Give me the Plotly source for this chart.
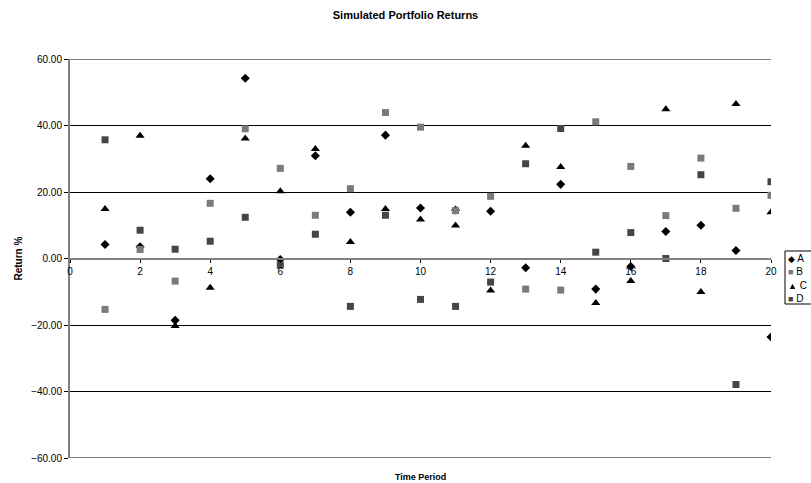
import plotly.graph_objects as go

periods = list(range(1, 21))
series_a = [4.2, 3.5, -18.6, 24.0, 54.2, -0.3, 30.9, 13.9, 37.1, 15.2, 14.6, 14.2, -2.8, 22.3, -9.2, -2.4, 8.1, 10.0, 2.4, -23.6]
series_b = [-15.3, 2.7, -6.8, 16.6, 39.0, 27.1, 13.0, 21.0, 43.9, 39.5, 14.4, 18.7, -9.2, -9.5, 41.1, 27.7, 12.9, 30.2, 15.1, 19.0]
series_c = [14.9, 36.9, -20.3, -8.8, 36.1, 20.2, 32.9, 5.0, 14.9, 11.7, 9.9, -9.6, 33.9, 27.5, -13.4, -6.8, 44.9, -10.1, 46.5, 13.9]
series_d = [35.7, 8.5, 2.8, 5.2, 12.4, -2.0, 7.3, -14.4, 13.0, -12.3, -14.4, -7.1, 28.5, 39.1, 1.9, 7.8, 0.0, 25.2, -37.9, 23.1]
series_names = ["A", "B", "C", "D"]
y_ticks = [-60, -40, -20, 0, 20, 40, 60]
x_ticks = list(range(0, 21, 2))

font = "Liberation Sans, Arial, sans-serif"

styles = [
    dict(symbol="diamond", size=7, color="#000000", glyph="\u25c6"),
    dict(symbol="square", size=7, color="#7a7a7a", glyph="\u25a0"),
    dict(symbol="triangle-up", size=8, color="#000000", glyph="\u25b2"),
    dict(symbol="square", size=7, color="#464646", glyph="\u25a0"),
]

fig = go.Figure()
for name, values, st in zip(series_names, [series_a, series_b, series_c, series_d], styles):
    fig.add_trace(go.Scatter(x=periods, y=values, mode="markers", name=name, showlegend=False,
                             marker=dict(symbol=st["symbol"], size=st["size"], color=st["color"])))

plot_h = 483 - 59 - 25
plot_w = 811 - 70 - 40

annotations = [
    dict(text="<b>Time Period</b>", x=0.5, xref="paper", xanchor="center",
         y=-(477 - 458) / plot_h, yref="paper", yanchor="middle",
         showarrow=False, font=dict(size=9, family=font)),
    dict(text="<b>Return %</b>", x=-(70 - 18) / plot_w, xref="paper", xanchor="center",
         y=0.5, yref="paper", yanchor="middle",
         showarrow=False, textangle=-90, font=dict(size=10, family=font)),
]
row_y = [258, 271.5, 285, 298.5]
for name, st, py in zip(series_names, styles, row_y):
    annotations.append(dict(
        text=f'<span style="color:{st["color"]};font-size:9px">{st["glyph"]}</span> {name}',
        x=(786 - 70) / plot_w, xref="paper", xanchor="left",
        y=(458 - py) / plot_h, yref="paper", yanchor="middle",
        showarrow=False, font=dict(size=10, family=font, color="#000000")))

fig.update_layout(
    width=811, height=483,
    margin=dict(l=70, r=40, t=59, b=25, autoexpand=False),
    paper_bgcolor="white", plot_bgcolor="white",
    font=dict(family=font, size=10, color="#000000"),
    title=dict(text="<b>Simulated Portfolio Returns</b>", x=0.5, xanchor="center",
               y=1 - 15 / 483, yanchor="middle", font=dict(size=11, family=font)),
    showlegend=False,
    xaxis=dict(range=[0, 20], tickvals=x_ticks, ticktext=[str(v) for v in x_ticks],
               showgrid=False, zeroline=False, showline=True, linecolor="#808080", linewidth=2,
               ticks="outside", ticklen=3, tickcolor="#000000",
               anchor="free", position=0.5, tickfont=dict(size=10, family=font)),
    yaxis=dict(range=[-60, 60], tickvals=y_ticks, tickformat=".2f",
               showgrid=True, gridcolor="#000000", gridwidth=1,
               zeroline=False, showline=True, linecolor="#808080", linewidth=2,
               ticks="outside", ticklen=4, tickcolor="#000000",
               tickfont=dict(size=10, family=font)),
    annotations=annotations,
    shapes=[
        dict(type="line", xref="x domain", yref="y", x0=0, x1=1, y0=60, y1=60,
             line=dict(color="#808080", width=2)),
        dict(type="line", xref="x domain", yref="y", x0=0, x1=1, y0=-60, y1=-60,
             line=dict(color="#808080", width=2)),
        dict(type="rect", xref="paper", yref="paper",
             x0=(785 - 70) / plot_w, x1=(830 - 70) / plot_w,
             y0=(458 - 304) / plot_h, y1=(458 - 251) / plot_h,
             line=dict(color="#000000", width=1), fillcolor="white"),
    ],
)

fig.write_html("out.html", config={"displayModeBar": False},
               post_script="document.body.style.margin='0';")
